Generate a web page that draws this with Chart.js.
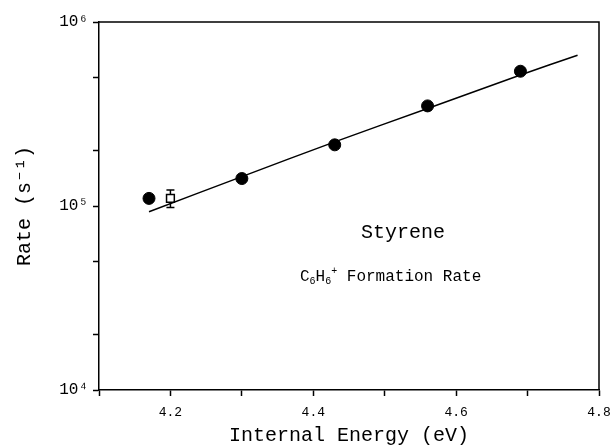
<!DOCTYPE html>
<html>
<head>
<meta charset="utf-8">
<title>Styrene - C6H6+ Formation Rate</title>
<script src="https://cdn.jsdelivr.net/npm/chart.js@4.4.0/dist/chart.umd.min.js"></script>
<style>
  html, body { margin: 0; padding: 0; background: #fff; }
  #wrap { width: 613px; height: 448px; }
</style>
</head>
<body>
<div id="wrap"><canvas id="rateChart" width="613" height="448"></canvas></div>
<script>
/* ── Data ───────────────────────────────────────── */
const measuredEnergy = [4.17, 4.30, 4.43, 4.56, 4.69];
const measuredRate   = [1.10e5, 1.41e5, 2.15e5, 3.50e5, 5.40e5];

const squareEnergy  = [4.20];
const squareRate    = [1.10e5];
const squareErrLow  = [0.98e5];
const squareErrHigh = [1.22e5];

const fitEnergy = [4.17, 4.30, 4.43, 4.56, 4.69, 4.77];
const fitRate   = [0.93e5, 1.445e5, 2.23e5, 3.39e5, 5.15e5, 6.6e5];

const xTicks      = [4.1, 4.2, 4.3, 4.4, 4.5, 4.6, 4.7, 4.8];
const xTickLabels = ['', '4.2', '', '4.4', '', '4.6', '', '4.8'];
const yTicks      = [1e4, 2e4, 5e4, 1e5, 2e5, 5e5, 1e6];
const yTickLabels = ['10⁴', '', '', '10⁵', '', '', '10⁶'];

/* ── Style ──────────────────────────────────────── */
const INK  = '#000';
const MONO = '"Liberation Mono", "DejaVu Sans Mono", monospace';

/* ── Plugins ────────────────────────────────────── */
const framePlugin = {
  id: 'frame',
  afterDraw(chart) {
    const { ctx, chartArea: a } = chart;
    ctx.save();
    ctx.strokeStyle = INK;
    ctx.lineWidth = 1.5;
    ctx.beginPath();
    ctx.moveTo(a.left, a.top);
    ctx.lineTo(a.right, a.top);
    ctx.lineTo(a.right, a.bottom);
    ctx.stroke();
    ctx.restore();
  }
};

const errorBarPlugin = {
  id: 'errorBars',
  beforeDatasetsDraw(chart) {
    const { ctx, scales: { x, y } } = chart;
    ctx.save();
    ctx.strokeStyle = INK;
    ctx.lineWidth = 1.5;
    squareEnergy.forEach((e, i) => {
      const px = x.getPixelForValue(e);
      const lo = y.getPixelForValue(squareErrLow[i]);
      const hi = y.getPixelForValue(squareErrHigh[i]);
      ctx.beginPath();
      ctx.moveTo(px, lo); ctx.lineTo(px, hi);
      ctx.moveTo(px - 4, lo); ctx.lineTo(px + 4, lo);
      ctx.moveTo(px - 4, hi); ctx.lineTo(px + 4, hi);
      ctx.stroke();
    });
    ctx.restore();
  }
};

const labelPlugin = {
  id: 'labels',
  afterDraw(chart) {
    const { ctx, chartArea: a } = chart;
    const w = a.right - a.left, h = a.bottom - a.top;
    ctx.save();
    ctx.fillStyle = INK;
    ctx.textBaseline = 'alphabetic';

    ctx.font = `20px ${MONO}`;
    ctx.textAlign = 'center';
    ctx.fillText('Styrene', a.left + w * 0.608, a.top + h * 0.571 + 6);

    // C6H6+ Formation Rate, drawn piece by piece for the sub/superscripts
    ctx.textAlign = 'left';
    let cx = a.left + w * 0.402;
    const base = a.top + h * 0.690 + 5;
    const parts = [
      ['C', 16, 0], ['6', 10, 3], ['H', 16, 0], ['6', 10, 3], ['+', 10, -7],
      [' Formation Rate', 16, 0]
    ];
    parts.forEach(([t, size, dy]) => {
      ctx.font = `${size}px ${MONO}`;
      ctx.fillText(t, cx, base + dy);
      cx += ctx.measureText(t).width;
    });
    ctx.restore();
  }
};

/* ── Chart ──────────────────────────────────────── */
const ctx = document.getElementById('rateChart').getContext('2d');
new Chart(ctx, {
  type: 'scatter',
  data: {
    datasets: [
      {
        type: 'line',
        data: fitEnergy.map((e, i) => ({ x: e, y: fitRate[i] })),
        borderColor: INK,
        borderWidth: 1.5,
        pointRadius: 0,
        tension: 0.4,
        fill: false
      },
      {
        data: measuredEnergy.map((e, i) => ({ x: e, y: measuredRate[i] })),
        pointStyle: 'circle',
        pointRadius: 6,
        backgroundColor: INK,
        borderColor: INK
      },
      {
        data: squareEnergy.map((e, i) => ({ x: e, y: squareRate[i] })),
        pointStyle: 'rect',
        pointRadius: 5.5,
        backgroundColor: '#fff',
        borderColor: INK,
        borderWidth: 1.5
      }
    ]
  },
  options: {
    responsive: false,
    animation: false,
    layout: { padding: { top: 22, right: 14, left: 10, bottom: 0 } },
    plugins: { legend: { display: false }, tooltip: { enabled: false } },
    scales: {
      x: {
        type: 'linear',
        min: 4.1,
        max: 4.8,
        afterBuildTicks: s => { s.ticks = xTicks.map(v => ({ value: v })); },
        afterFit: s => { s.height = 58; s.paddingRight = 0; s.paddingLeft = 0; },
        ticks: {
          autoSkip: false,
          maxRotation: 0,
          padding: 9,
          color: INK,
          font: { family: MONO, size: 13 },
          callback: (v, i) => xTickLabels[i]
        },
        grid: { drawOnChartArea: false, drawTicks: true, tickLength: 6, tickWidth: 1.5, color: INK },
        border: { display: true, color: INK, width: 1.5 },
        title: {
          display: true,
          text: 'Internal Energy (eV)',
          color: INK,
          font: { family: MONO, size: 20 },
          padding: { top: 1, bottom: 0 }
        }
      },
      y: {
        type: 'logarithmic',
        min: 1e4,
        max: 1e6,
        afterBuildTicks: s => { s.ticks = yTicks.map(v => ({ value: v })); },
        afterFit: s => { s.width = 89; s.paddingTop = 0; s.paddingBottom = 0; },
        ticks: {
          autoSkip: false,
          padding: 5,
          color: INK,
          font: { family: MONO, size: 16 },
          callback: (v, i) => yTickLabels[i]
        },
        grid: { drawOnChartArea: false, drawTicks: true, tickLength: 6, tickWidth: 1.5, color: INK },
        border: { display: true, color: INK, width: 1.5 },
        title: {
          display: true,
          text: 'Rate (s⁻¹)',
          color: INK,
          font: { family: MONO, size: 20 },
          padding: { top: 3, bottom: 0 }
        }
      }
    }
  },
  plugins: [framePlugin, errorBarPlugin, labelPlugin]
});
</script>
</body>
</html>
